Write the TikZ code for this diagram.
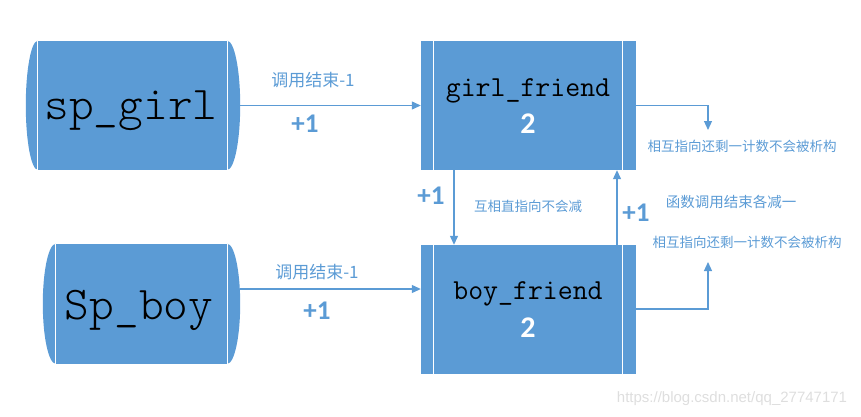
\documentclass[tikz,border=0pt]{standalone}
\usepackage{fontspec}
\newfontfamily\cjk{Noto Sans CJK SC}
\newfontfamily\calib{Carlito}
\newfontfamily\wmfont{Liberation Sans}
\newfontfamily\namefont{Latin Modern Mono Light}
\usetikzlibrary{arrows.meta}
\definecolor{boxblue}{HTML}{5B9BD5}

\begin{document}
\begin{tikzpicture}[x=1pt, y=-1pt,
    storebox/.style={fill=boxblue, inner sep=0pt},
    procbox/.style={fill=boxblue, inner sep=0pt, minimum width=215pt, minimum height=129pt},
    bigname/.style={font=\fontsize{47}{50}\selectfont\namefont, anchor=base, inner sep=0pt},
    midname/.style={font=\fontsize{29}{32}\selectfont\ttfamily, anchor=base, inner sep=0pt},
    count/.style={font=\fontsize{30}{32}\selectfont\calib\bfseries, text=white, anchor=base, inner sep=0pt},
    plusone/.style={font=\fontsize{27}{29}\selectfont\calib\bfseries, text=boxblue, inner sep=0pt},
    note/.style={font=\fontsize{13.5}{15}\selectfont\cjk, text=boxblue, inner sep=0pt},
    flow/.style={draw=boxblue, line width=1.2pt, -{Triangle[length=9pt,width=8pt]}}]
    \useasboundingbox (0,0) rectangle (861,417);

    % the two stack pointers
    \node[storebox, minimum width=189pt, minimum height=129pt] (spgirl) at (132.5,105.5) {};
    \node[storebox, minimum width=171pt, minimum height=120pt] (spboy) at (141.5,304) {};
    \fill[boxblue] (spgirl.north west) arc[start angle=90, end angle=270, x radius=12pt, y radius=64.5pt] -- cycle;
    \fill[boxblue] (spgirl.north east) arc[start angle=90, end angle=-90, x radius=13pt, y radius=64.5pt] -- cycle;
    \fill[boxblue] (spboy.north west) arc[start angle=90, end angle=270, x radius=13pt, y radius=60pt] -- cycle;
    \fill[boxblue] (spboy.north east) arc[start angle=90, end angle=-90, x radius=13pt, y radius=60pt] -- cycle;
    \foreach \s in {spgirl, spboy}{
        \draw[white, line width=1pt] (\s.north west) -- (\s.south west);
        \draw[white, line width=1pt] (\s.north east) -- (\s.south east);
    }
    \node[bigname] (spgirltxt) at (131,120) {sp\_girl};
    \node[bigname] (spboytxt) at (139,319) {Sp\_boy};

    % the two objects on the heap
    \node[procbox] (gf) at (528.5,105.5) {};
    \node[procbox] (bf) at (528.5,309.5) {};
    \foreach \b in {gf, bf}{
        \draw[white, line width=1pt] ([xshift=13pt]\b.north west) -- ([xshift=13pt]\b.south west);
        \draw[white, line width=1pt] ([xshift=-14pt]\b.north east) -- ([xshift=-14pt]\b.south east);
    }
    \node[midname] (gftxt) at (528,96) {girl\_friend};
    \node[count] (gfcnt) at (528,133) {2};
    \node[midname] (bftxt) at (528,299) {boy\_friend};
    \node[count] (bfcnt) at (528,337) {2};

    % connectors
    \coordinate (spgirl-r) at ([xshift=13pt]spgirl.east);
    \coordinate (spboy-r) at ([xshift=13pt, yshift=15pt]spboy.east);
    \draw[flow] (spgirl-r) -- (gf.west);
    \draw[flow] (spboy-r) -- (spboy-r -| bf.west);
    \coordinate (gf-out) at ([xshift=-74.5pt]gf.south);
    \coordinate (bf-out) at ([xshift=88.5pt]bf.north);
    \draw[flow] (gf-out) -- (gf-out |- bf.north);
    \draw[flow] (bf-out) -- (bf-out |- gf.south);
    \coordinate (gf-end) at (708,130);
    \coordinate (bf-end) at (708,262);
    \draw[flow] (gf.east) -| (gf-end);
    \draw[flow] ([yshift=0.5pt]bf.east) -| (bf-end);

    % labels
    \node[note, font=\fontsize{17}{19}\selectfont\cjk] (callg) at (313,80) {调用结束-1};
    \node[plusone] (pg) at (305,124) {+1};
    \node[note, font=\fontsize{17}{19}\selectfont\cjk] (callb) at (317,272) {调用结束-1};
    \node[plusone] (pb) at (317,311) {+1};
    \node[plusone] (pdown) at (431,196) {+1};
    \node[note] (mutual) at (528,206) {互相直指向不会减};
    \node[plusone] (pup) at (636,213) {+1};
    \node[note] (leftg) at (742,146) {相互指向还剩一计数不会被析构};
    \node[note, font=\fontsize{14.5}{16}\selectfont\cjk] (endall) at (731,202) {函数调用结束各减一};
    \node[note] (leftb) at (747,242) {相互指向还剩一计数不会被析构};
    \node[font=\fontsize{15}{17}\selectfont\wmfont, text=black!13, inner sep=0pt] (wm) at (732,399) {https://blog.csdn.net/qq\_27747171};
\end{tikzpicture}
\end{document}
